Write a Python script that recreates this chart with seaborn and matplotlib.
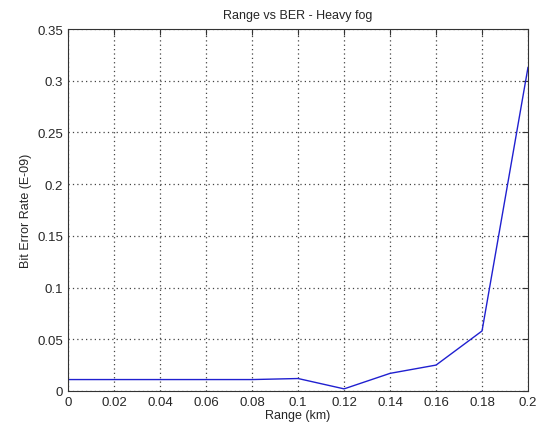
import numpy as np
import matplotlib
matplotlib.use("Agg")
import matplotlib.pyplot as plt
import seaborn as sns

# range (km) and bit error rate (E-09)
range_km = [0, 0.02, 0.04, 0.06, 0.08, 0.09, 0.1, 0.12, 0.14, 0.16, 0.18, 0.2]
ber = [0.011, 0.011, 0.011, 0.011, 0.011, 0.0115, 0.012, 0.002, 0.017, 0.025, 0.058, 0.313]

sns.set_style("white")
plt.rcParams['font.family'] = ['Liberation Sans', 'DejaVu Sans']

fig = plt.figure(figsize=(5.41, 4.35), dpi=100)
ax = fig.add_axes([0.126, 0.099, 0.85, 0.832])

sns.lineplot(x=range_km, y=ber, ax=ax, color='#2020d0', linewidth=1)

ax.set_xlim(0, 0.2)
ax.set_ylim(0, 0.35)
ax.set_xticks(np.arange(0, 0.201, 0.02))
ax.set_xticklabels(['0', '0.02', '0.04', '0.06', '0.08', '0.1', '0.12', '0.14', '0.16', '0.18', '0.2'])
ax.set_yticks(np.arange(0, 0.351, 0.05))
ax.set_yticklabels(['0', '0.05', '0.1', '0.15', '0.2', '0.25', '0.3', '0.35'])
ax.tick_params(direction='in', top=True, right=True, labelsize=9.5, length=4, color='#333333')
ax.grid(True, linestyle=(0, (1, 2.5)), color='#444444', linewidth=0.9)
for s in ax.spines.values():
    s.set_color('#333333')
    s.set_linewidth(0.8)

ax.set_xlabel('Range (km)', fontsize=9, labelpad=1)
ax.set_ylabel('Bit Error Rate (E-09)', fontsize=9)
ax.set_title('Range vs BER - Heavy fog', fontsize=9, pad=8)

fig.savefig('out.png', dpi=100)
